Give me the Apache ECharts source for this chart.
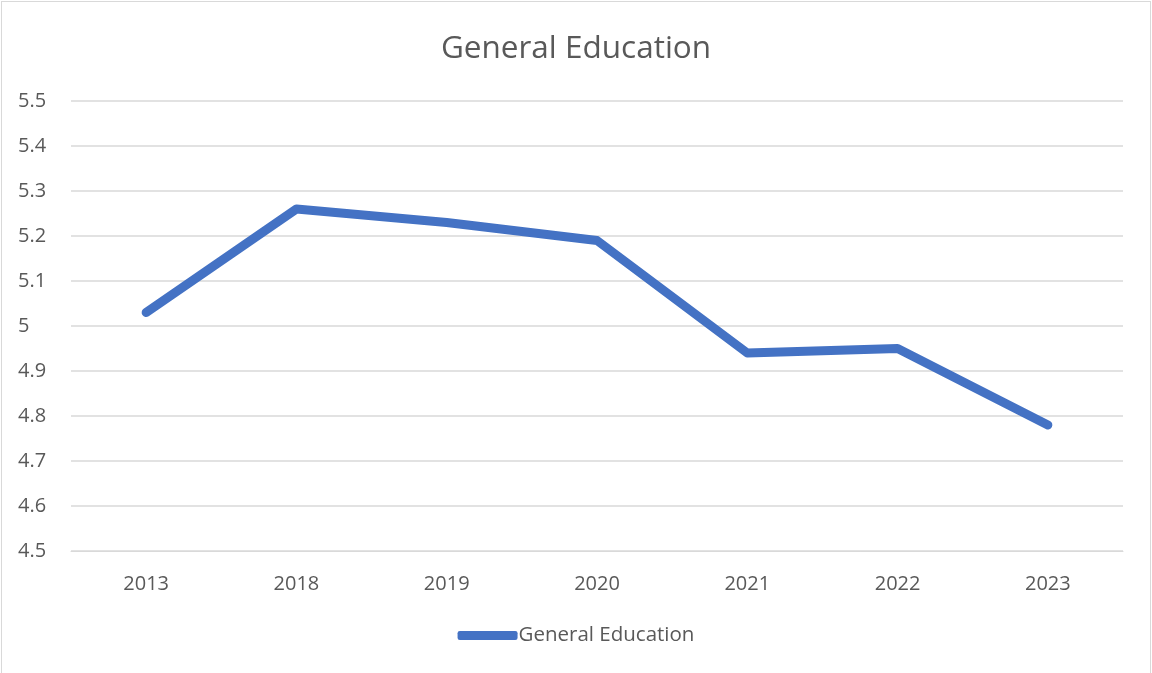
<!DOCTYPE html>
<html><head><meta charset="utf-8">
<script src="https://cdn.jsdelivr.net/npm/echarts@6/dist/echarts.min.js"></script>
<style>
html,body{margin:0;padding:0;background:#fff;}
#c{position:absolute;left:0;top:0;width:1152px;height:673px;}
#b{position:absolute;left:1px;top:1px;width:1148px;height:680px;border:1px solid #d9d9d9;pointer-events:none;}
</style></head>
<body><div id="c"></div><div id="b"></div>
<script>
const title = "General Education";
const seriesName = "General Education";
const categories = ["2013","2018","2019","2020","2021","2022","2023"];
const values = [5.03, 5.26, 5.23, 5.19, 4.94, 4.95, 4.78];
const yMin = 4.5, yMax = 5.5, yStep = 0.1;

const chart = echarts.init(document.getElementById('c'), null, {renderer:'canvas'});
const font = "'Open Sans', 'Noto Sans', sans-serif";
chart.setOption({
  animation:false,
  backgroundColor:'#fff',
  title:{text:title,left:'center',top:28,textStyle:{fontFamily:font,fontSize:31.5,fontWeight:'normal',color:'#595959'}},
  legend:{data:[{name:seriesName}],bottom:22,left:'center',itemWidth:60,itemHeight:9,itemGap:0,icon:'roundRect',
    textStyle:{fontFamily:font,fontSize:20.5,color:'#595959',padding:[0,0,0,-4]}},
  grid:{left:71,right:29,top:101,bottom:122,containLabel:false},
  xAxis:{type:'category',data:categories,boundaryGap:true,
    axisLine:{show:true,lineStyle:{color:'#d9d9d9',width:1}},axisTick:{show:false},
    axisLabel:{fontFamily:font,fontSize:20,color:'#595959',margin:23}},
  yAxis:{type:'value',min:yMin,max:yMax,interval:yStep,
    axisLine:{show:false},axisTick:{show:false},
    splitLine:{lineStyle:{color:'#d9d9d9',width:1.5}},
    axisLabel:{fontFamily:font,fontSize:20,color:'#595959',margin:53,align:'left',
      formatter:v=>{const r=Math.round(v*10)/10;return r===5?'5':r.toFixed(1);}}},
  series:[{name:seriesName,type:'line',data:values,symbol:'none',
    lineStyle:{color:'#4472C4',width:9,cap:'round',join:'round'},itemStyle:{color:'#4472C4'}}]
});
</script></body></html>
